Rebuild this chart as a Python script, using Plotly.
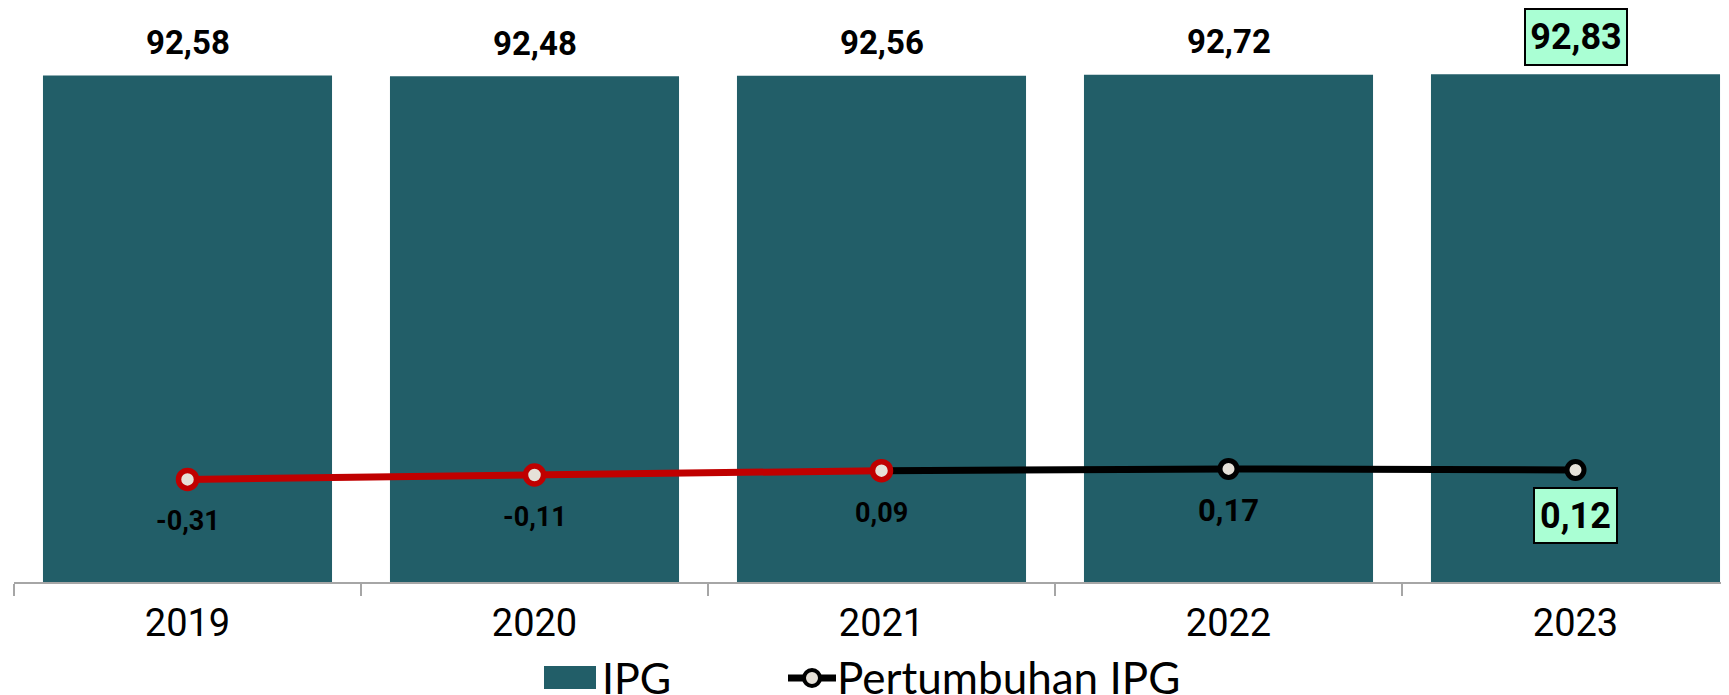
import plotly.graph_objects as go

# ---- data ----
years = ["2019", "2020", "2021", "2022", "2023"]
ipg = [92.58, 92.48, 92.56, 92.72, 92.83]
growth = [-0.31, -0.11, 0.09, 0.17, 0.12]
ipg_labels = ["92,58", "92,48", "92,56", "92,72", "92,83"]
growth_labels = ["-0,31", "-0,11", "0,09", "0,17", "0,12"]

# ---- style ----
OFF = 8                      # browser body margin
W, H = 1729 - OFF, 695 - OFF
PL, PR, PT, PB = 14, 1729, 35, 582   # plot area in page pixels
ML, MR, MT, MB = PL - OFF, 0, PT - OFF, 695 - PB
BAR = "#225E68"
RED = "#C00000"
BLK = "#000000"
MFILL = "#E6E1D8"
BOX = "#AAFFD4"
NARROW = "Roboto, Liberation Sans Narrow, DejaVu Sans Condensed, sans-serif"
LEGFONT = "Lato, Open Sans, sans-serif"

pw = PR - PL
ph = PB - PT


def px(x):
    return (x - PL) / pw


def py(y):
    return (PB - y) / ph


fig = go.Figure()
fig.add_trace(go.Bar(x=years, y=ipg, marker_color=BAR, marker_line_width=0,
                     name="IPG", showlegend=False))

split = 2  # 2019-2021 red, 2021-2023 black
fig.add_trace(go.Scatter(x=years[split:], y=growth[split:], yaxis="y2", mode="lines+markers",
                         line=dict(color=BLK, width=7),
                         marker=dict(size=17, color=MFILL, line=dict(color=BLK, width=5)),
                         name="Pertumbuhan IPG", showlegend=False))
fig.add_trace(go.Scatter(x=years[:split + 1], y=growth[:split + 1], yaxis="y2", mode="lines+markers",
                         line=dict(color=RED, width=7),
                         marker=dict(size=18, color=MFILL, line=dict(color=RED, width=5.5)),
                         name="Pertumbuhan IPG (turun)", showlegend=False))

annotations = []
n = len(years)
growth_sizes = [27, 27, 27, 31, 36]
for i in range(n):
    last = i == n - 1
    a = dict(x=i, y=ipg[i], xref="x", yref="y", showarrow=False,
             text="<b>%s</b>" % ipg_labels[i], yanchor="middle",
             yshift=37 if last else 33,
             font=dict(family=NARROW, size=36 if last else 33, color="black"))
    if last:
        a.update(bgcolor=BOX, bordercolor="black", borderwidth=2, width=100, height=54, borderpad=0)
    annotations.append(a)

    b = dict(x=i, y=growth[i], xref="x", yref="y2", showarrow=False,
             text="<b>%s</b>" % growth_labels[i], yanchor="middle",
             yshift=-46 if last else -42,
             font=dict(family=NARROW, size=growth_sizes[i], color="black"))
    if last:
        b.update(bgcolor=BOX, bordercolor="black", borderwidth=2, width=81, height=53, borderpad=0)
    annotations.append(b)

# ---- custom legend ----
shapes = [
    dict(type="rect", xref="paper", yref="paper", x0=px(544), x1=px(596), y0=py(689), y1=py(666),
         fillcolor=BAR, line_width=0),
    dict(type="line", xref="paper", yref="paper", x0=px(788), x1=px(836), y0=py(678), y1=py(678),
         line=dict(color=BLK, width=7)),
    dict(type="circle", xref="paper", yref="paper", x0=px(804), x1=px(820), y0=py(686), y1=py(670),
         fillcolor=MFILL, line=dict(color=BLK, width=4)),
]
annotations.append(dict(x=px(600), y=py(677), xref="paper", yref="paper", showarrow=False,
                        xanchor="left", yanchor="middle", text="IPG",
                        font=dict(family=LEGFONT, size=43, color="black")))
annotations.append(dict(x=px(835), y=py(677), xref="paper", yref="paper", showarrow=False,
                        xanchor="left", yanchor="middle", text="Pertumbuhan IPG",
                        font=dict(family=LEGFONT, size=44, color="black")))

fig.update_layout(
    width=W, height=H,
    margin=dict(l=ML, r=MR, t=MT, b=MB, pad=0),
    paper_bgcolor="white", plot_bgcolor="white",
    bargap=0.167,
    showlegend=False,
    xaxis=dict(type="category", range=[-0.5, -0.5 + pw / 347.0], showline=True, linecolor="#A6A6A6",
               linewidth=2, ticks="outside", tickson="boundaries", ticklen=12, tickwidth=2,
               tickcolor="#A6A6A6", showgrid=False, zeroline=False, automargin=False,
               ticklabelstandoff=6,
               tickfont=dict(family=NARROW, size=38, color="black")),
    yaxis=dict(range=[0, 100], visible=False, showgrid=False, zeroline=False),
    yaxis2=dict(range=[-5, 20], overlaying="y", side="right", visible=False, showgrid=False,
                zeroline=False),
    annotations=annotations,
    shapes=shapes,
)

fig.write_html("out.html")
